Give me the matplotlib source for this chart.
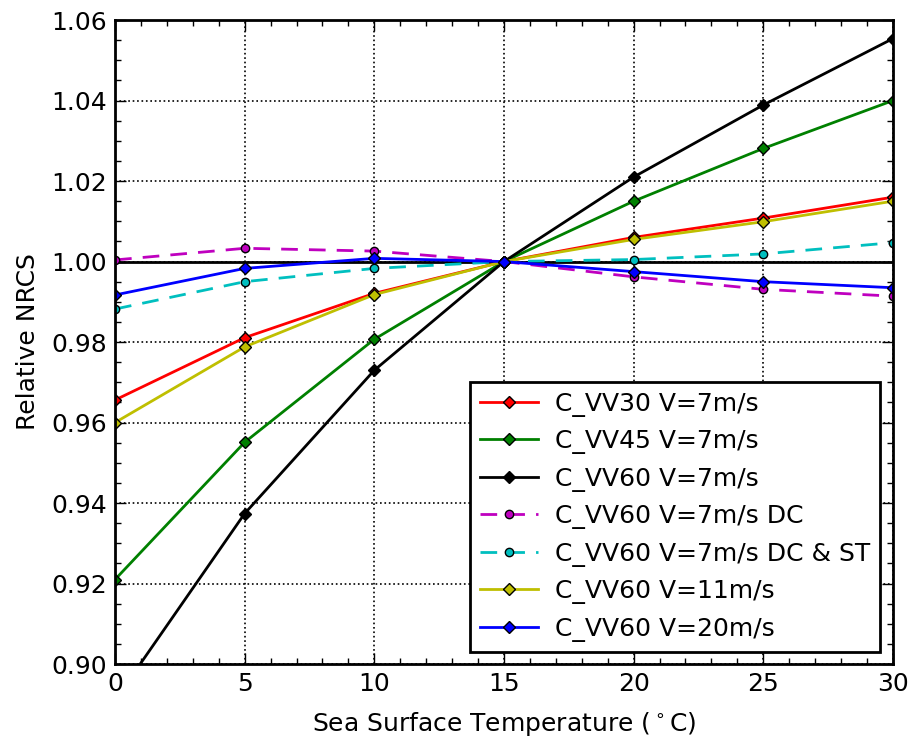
import matplotlib.pyplot as plt
from matplotlib.ticker import MultipleLocator

# SST (deg C) and relative NRCS for each case
sst = [0, 5, 10, 15, 20, 25, 30]
vv30_7 = [0.9656, 0.9811, 0.9921, 1.0, 1.0060, 1.0108, 1.0160]
vv45_7 = [0.9210, 0.9551, 0.9807, 1.0, 1.0150, 1.0281, 1.0400]
vv60_7 = [0.8910, 0.9374, 0.9730, 1.0, 1.0210, 1.0389, 1.0554]
vv60_7_dc = [1.0004, 1.0033, 1.0026, 1.0, 0.9962, 0.9931, 0.9914]
vv60_7_dcst = [0.9882, 0.9950, 0.9983, 1.0, 1.0005, 1.0019, 1.0047]
vv60_11 = [0.9600, 0.9788, 0.9918, 1.0, 1.0055, 1.0099, 1.0150]
vv60_20 = [0.9917, 0.9983, 1.0008, 1.0, 0.9975, 0.9950, 0.9935]

fig = plt.figure(figsize=(9.13, 7.44), dpi=100)
ax = fig.add_axes([0.126, 0.1075, 0.852, 0.8655])

ax.axhline(1.0, color='k', lw=2, zorder=1)
kw = dict(lw=2, markersize=6, markeredgecolor='k', markeredgewidth=1)
ax.plot(sst, vv30_7, 'r-D', label="C_VV30 V=7m/s", **kw)
ax.plot(sst, vv45_7, 'g-D', label="C_VV45 V=7m/s", **kw)
ax.plot(sst, vv60_7, 'k-D', label="C_VV60 V=7m/s", **kw)
ax.plot(sst, vv60_7_dc, 'm--o', label="C_VV60 V=7m/s DC", dashes=(6, 4), **kw)
ax.plot(sst, vv60_7_dcst, 'c--o', label="C_VV60 V=7m/s DC & ST", dashes=(6, 4), **kw)
ax.plot(sst, vv60_11, 'y-D', label="C_VV60 V=11m/s", **kw)
ax.plot(sst, vv60_20, 'b-D', label="C_VV60 V=20m/s", **kw)

ax.set_xlim(0, 30)
ax.set_ylim(0.90, 1.06)
ax.xaxis.set_major_locator(MultipleLocator(5))
ax.xaxis.set_minor_locator(MultipleLocator(1))
ax.yaxis.set_major_locator(MultipleLocator(0.02))
ax.yaxis.set_minor_locator(MultipleLocator(0.005))
ax.set_yticklabels([f"{v:.2f}" for v in ax.get_yticks()])
ax.tick_params(which='both', direction='in', top=True, right=True)
ax.tick_params(which='major', length=8, width=1, labelsize=18, pad=6)
ax.tick_params(which='minor', length=4, width=1)
for s in ax.spines.values():
    s.set_linewidth(2)
ax.grid(True, which='major', color='k', linestyle=':', lw=1.2)

ax.set_xlabel("Sea Surface Temperature ($^\\circ$C)", fontsize=18, labelpad=10)
ax.set_ylabel("Relative NRCS", fontsize=18, labelpad=8)

leg = ax.legend(loc='lower right', fontsize=18, fancybox=False, framealpha=1,
                edgecolor='k', numpoints=1, handlelength=2.3,
                handletextpad=0.7, labelspacing=0.5)
leg.get_frame().set_linewidth(2)

fig.savefig("out.png", dpi=100)
